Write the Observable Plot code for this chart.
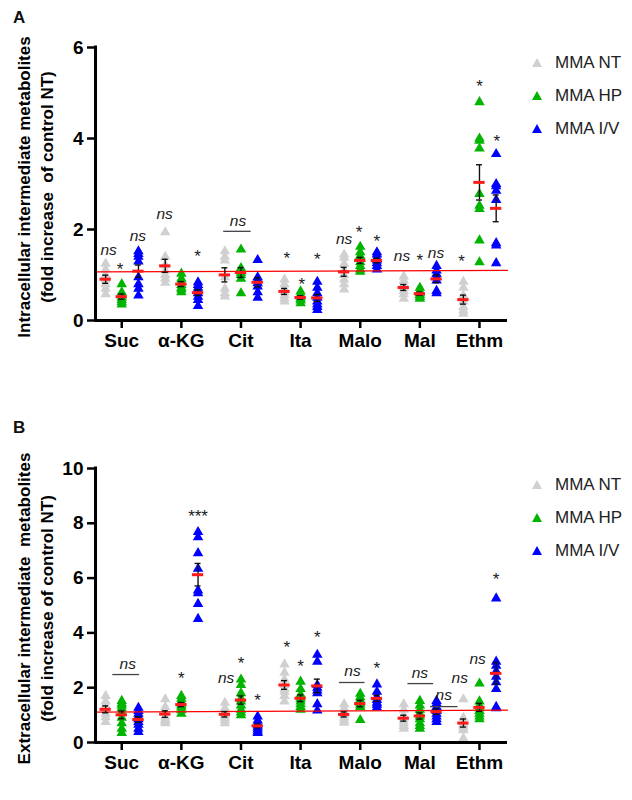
<!DOCTYPE html>
<html><head><meta charset="utf-8">
<script src="https://cdn.jsdelivr.net/npm/d3@7"></script>
<script src="https://cdn.jsdelivr.net/npm/@observablehq/plot@0.6"></script>
<style>
body{margin:0;background:#fff;font-family:"Liberation Sans",Arial,sans-serif;}
#wrap{position:relative;width:632px;height:800px;overflow:hidden;}
.panel{position:absolute;left:0;}
.letter{position:absolute;font-weight:bold;font-size:17px;color:#111;z-index:2;}
.legend{position:absolute;left:532px;font-size:17px;color:#222;}
.legend .row{height:33px;display:flex;align-items:center;white-space:nowrap;}
.legend svg{margin-right:13px;}
</style></head><body>
<div id="wrap">
  <div id="pa" class="panel" style="top:0px;"></div>
  <div id="pb" class="panel" style="top:400px;"></div>
  <div class="letter" style="left:13px;top:8px;">A</div>
  <div class="letter" style="left:13px;top:418px;">B</div>
  <div id="lega" class="legend" style="top:46px;"></div>
  <div id="legb" class="legend" style="top:468px;"></div>
</div>
<script>
const categories = ["Suc", "α-KG", "Cit", "Ita", "Malo", "Mal", "Ethm"];
const groups = ["MMA NT", "MMA HP", "MMA I/V"];
const groupColors = ["#d0d0d0", "#00b400", "#0000ff"];
const groupOffsets = [-0.27, 0, 0.28];

// Panel A: intracellular (fold increase of control NT), one list per category
const intraNT = [
  [1.25, 1.12, 1.0, 0.9, 0.8, 0.7, 0.58],
  [1.94, 1.4, 1.22, 1.1, 1.0, 0.92, 0.83],
  [1.52, 1.4, 1.32, 0.95, 0.7, 0.6, 0.53],
  [0.9, 0.8, 0.7, 0.62, 0.55, 0.48, 0.42],
  [1.45, 1.38, 1.25, 1.1, 1.0, 0.9, 0.8, 0.68],
  [0.97, 0.88, 0.8, 0.72, 0.65, 0.58, 0.48],
  [0.85, 0.72, 0.55, 0.42, 0.3, 0.22, 0.15]
];
const intraHP = [
  [0.8, 0.62, 0.55, 0.5, 0.45, 0.4, 0.35],
  [1.03, 0.92, 0.85, 0.78, 0.72, 0.68, 0.62],
  [1.56, 1.15, 1.1, 1.05, 1.0, 0.92, 0.6],
  [0.64, 0.57, 0.52, 0.48, 0.44, 0.38],
  [1.62, 1.5, 1.42, 1.35, 1.28, 1.2, 1.12, 1.07],
  [0.72, 0.65, 0.6, 0.56, 0.52, 0.48],
  [4.8, 4.0, 3.95, 3.78, 2.78, 2.52, 2.45, 1.76, 1.28]
];
const intraIV = [
  [1.52, 1.46, 1.4, 1.3, 0.95, 0.8, 0.7, 0.55],
  [0.84, 0.78, 0.72, 0.66, 0.6, 0.52, 0.45, 0.32],
  [1.33, 0.95, 0.9, 0.82, 0.75, 0.62, 0.5],
  [0.85, 0.72, 0.6, 0.5, 0.42, 0.35, 0.3, 0.23],
  [1.5, 1.45, 1.38, 1.32, 1.26, 1.2, 1.12],
  [1.2, 1.1, 1.02, 0.95, 0.88, 0.65, 0.6],
  [3.66, 3.0, 2.95, 2.85, 2.65, 1.7, 1.65, 1.26]
];

// Panel B: extracellular
const extraNT = [
  [1.7, 1.5, 1.35, 1.2, 1.05, 0.92, 0.75],
  [1.58, 1.3, 1.1, 0.95, 0.85, 0.78, 0.7],
  [1.45, 1.25, 1.1, 1.0, 0.9, 0.8, 0.7],
  [2.85, 2.55, 2.3, 2.1, 1.95, 1.85, 1.7, 1.5],
  [1.4, 1.25, 1.1, 1.0, 0.9, 0.8, 0.72],
  [1.4, 1.2, 1.0, 0.9, 0.8, 0.7, 0.6, 0.5],
  [1.58, 0.9, 0.75, 0.68, 0.62, 0.55, 0.45, 0.15]
];
const extraHP = [
  [1.52, 1.42, 1.35, 1.25, 1.1, 0.9, 0.7, 0.5, 0.35],
  [1.7, 1.6, 1.5, 1.42, 1.35, 1.28, 1.18, 1.05],
  [2.3, 2.1, 1.8, 1.6, 1.5, 1.35, 1.2, 1.1, 1.0],
  [2.22, 1.95, 1.75, 1.6, 1.5, 1.4, 1.3, 1.2],
  [1.78, 1.65, 1.55, 1.45, 1.38, 1.3, 0.82],
  [1.52, 1.35, 1.2, 1.05, 0.95, 0.85, 0.7, 0.6, 0.5],
  [2.15, 1.5, 1.35, 1.25, 1.15, 1.05, 0.95, 0.85]
];
const extraIV = [
  [1.27, 1.15, 1.05, 0.95, 0.85, 0.75, 0.65, 0.5, 0.38],
  [7.68, 7.49, 6.91, 6.34, 5.55, 5.45, 5.06, 4.51],
  [0.95, 0.8, 0.7, 0.62, 0.55, 0.48, 0.4, 0.35],
  [3.2, 2.95, 2.1, 2.0, 1.9, 1.8, 1.4, 1.17],
  [2.12, 1.85, 1.65, 1.55, 1.45, 1.38, 1.28],
  [1.52, 1.42, 1.3, 1.15, 1.05, 0.95, 0.85, 0.75],
  [5.26, 2.95, 2.8, 2.6, 2.4, 2.2, 1.95, 1.3, 1.25]
];

const intraTicks = [0, 2, 4, 6];
const extraTicks = [0, 2, 4, 6, 8, 10];
const intraRef = [1.07, 1.10];   // red control line (left, right)
const extraRef = [1.11, 1.18];

const intraTitle = "Intracellular intermediate metabolites\n(fold increase  of control NT)";
const extraTitle = "Extracellular intermediate  metabolites\n(fold increase of control NT)";

// significance labels: [text, category, offset, value]
const intraLabels = [
  ["ns", "Suc", -0.22, 1.54], ["*", "Suc", -0.03, 1.21], ["ns", "Suc", 0.27, 1.85],
  ["ns", "α-KG", -0.28, 2.33], ["*", "α-KG", 0.27, 1.49],
  ["ns", "Cit", -0.05, 2.18],
  ["*", "Ita", -0.23, 1.46], ["*", "Ita", 0.02, 0.88], ["*", "Ita", 0.28, 1.43],
  ["ns", "Malo", -0.27, 1.78], ["*", "Malo", -0.02, 2.02], ["*", "Malo", 0.28, 1.82],
  ["ns", "Mal", -0.3, 1.42], ["*", "Mal", 0, 1.41], ["ns", "Mal", 0.27, 1.48],
  ["*", "Ethm", -0.3, 1.39], ["*", "Ethm", 0, 5.24], ["*", "Ethm", 0.29, 4.02]
];
const intraBars = [["Cit", -0.29, 0.17, 1.96]];
const extraLabels = [
  ["ns", "Suc", 0.1, 2.85],
  ["*", "α-KG", 0, 2.48], ["***", "α-KG", 0.28, 8.38],
  ["ns", "Cit", -0.25, 2.37], ["*", "Cit", 0, 3.03], ["*", "Cit", 0.28, 1.68],
  ["*", "Ita", -0.23, 3.6], ["*", "Ita", 0, 2.92], ["*", "Ita", 0.28, 3.98],
  ["ns", "Malo", -0.13, 2.6], ["*", "Malo", 0.28, 2.85],
  ["ns", "Mal", 0, 2.55], ["ns", "Mal", 0.4, 1.72],
  ["ns", "Ethm", -0.33, 2.37], ["ns", "Ethm", -0.03, 3.03], ["*", "Ethm", 0.28, 6.1]
];
const extraBars = [["Suc", -0.15, 0.3, 2.48], ["Malo", -0.35, 0.08, 2.19], ["Mal", -0.2, 0.23, 2.15], ["Mal", 0.18, 0.64, 1.31]];

const xDomain = [-0.44, 6.47];
const ci = c => categories.indexOf(c);

function panel(series, ticks, ref, title, labels, bars, marginTop, innerH, marginBottom) {
  const yMax = ticks[ticks.length - 1];
  const points = [], stats = [];
  series.forEach((ser, gi) => ser.forEach((vals, c) => {
    const x = c + groupOffsets[gi];
    vals.forEach(v => points.push({x, y: v, g: gi}));
    const m = d3.mean(vals), s = d3.deviation(vals) / Math.sqrt(vals.length);
    stats.push({x, mean: m, lo: m - s, hi: m + s});
  }));
  const refRows = [{x: xDomain[0], y: ref[0]}, {x: xDomain[1], y: ref[1]}];
  const lab = labels.map(d => ({t: d[0], x: ci(d[1]) + d[2], y: d[3]}));
  const bar = bars.map(d => ({x1: ci(d[0]) + d[1], x2: ci(d[0]) + d[2], y: d[3]}));
  return Plot.plot({
    width: 632, height: marginTop + innerH + marginBottom,
    marginLeft: 95, marginRight: 125, marginTop, marginBottom,
    style: {fontFamily: "'Liberation Sans', Arial, sans-serif", color: "#000", background: "transparent", overflow: "visible"},
    x: {domain: xDomain},
    y: {domain: [0, yMax]},
    marks: [
      ...groups.map((g, gi) => Plot.dot(points.filter(p => p.g === gi), {x: "x", y: "y", symbol: "triangle", r: 3.9, fill: groupColors[gi], stroke: "none"})),
      Plot.line(refRows, {x: "x", y: "y", stroke: "#ff0000", strokeWidth: 1.3}),
      Plot.ruleX(stats, {x: "x", y1: "lo", y2: "hi", stroke: "#111", strokeWidth: 1.4}),
      Plot.ruleY(stats, {y: "lo", x1: d => d.x - 0.05, x2: d => d.x + 0.05, stroke: "#111", strokeWidth: 1.4}),
      Plot.ruleY(stats, {y: "hi", x1: d => d.x - 0.05, x2: d => d.x + 0.05, stroke: "#111", strokeWidth: 1.4}),
      Plot.ruleY(stats, {y: "mean", x1: d => d.x - 0.095, x2: d => d.x + 0.095, stroke: "#ff1a1a", strokeWidth: 3}),
      Plot.text(lab.filter(d => d.t === "ns"), {x: "x", y: "y", text: "t", fontStyle: "italic", fontSize: 15.5, fill: "#1a1a1a"}),
      Plot.text(lab.filter(d => d.t !== "ns"), {x: "x", y: "y", text: "t", fontSize: 17, dy: 4, fill: "#1a1a1a"}),
      Plot.ruleY(bar, {y: "y", x1: "x1", x2: "x2", stroke: "#444", strokeWidth: 1.3}),
      Plot.axisY(ticks, {tickSize: 8, tickPadding: 4, fontSize: 19, fontWeight: "bold", strokeWidth: 2.5, label: null}),
      Plot.axisX(d3.range(categories.length), {tickSize: 8, tickPadding: 5, fontSize: 19, fontWeight: "bold", strokeWidth: 2.5, tickFormat: i => categories[i], label: null}),
      Plot.ruleY([0], {stroke: "#000", strokeWidth: 3}),
      Plot.ruleX([xDomain[0]], {y1: 0, y2: yMax, stroke: "#000", strokeWidth: 3, strokeLinecap: "square"}),
      Plot.text([title], {frameAnchor: "left", textAnchor: "middle", rotate: -90, dx: -61, dy: 3, fontSize: 17, fontWeight: "bold", lineHeight: 1.35, lineAnchor: "middle", fill: "#000"})
    ]
  });
}

document.getElementById("pa").append(panel([intraNT, intraHP, intraIV], intraTicks, intraRef, intraTitle, intraLabels, intraBars, 47, 273, 40));
document.getElementById("pb").append(panel([extraNT, extraHP, extraIV], extraTicks, extraRef, extraTitle, extraLabels, extraBars, 68, 274, 50));

for (const id of ["lega", "legb"]) {
  const el = document.getElementById(id);
  groups.forEach((g, gi) => {
    const row = document.createElement("div");
    row.className = "row";
    row.innerHTML = `<svg width="10" height="9"><polygon points="5,0 10,9 0,9" fill="${groupColors[gi]}"/></svg><span>${g}</span>`;
    el.append(row);
  });
}
</script>
</body></html>
